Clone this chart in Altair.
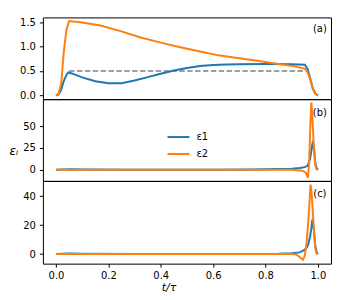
import altair as alt
import pandas as pd

SERIES = ["ε1", "ε2"]
COLORS = ["#1f77b4", "#ff7f0e"]

# ---- panel (a) ----
a_t1 = [0, 0.01, 0.02, 0.03, 0.04, 0.047, 0.06, 0.1, 0.15, 0.2, 0.25, 0.3, 0.35, 0.4, 0.45,
        0.5, 0.55, 0.6, 0.65, 0.7, 0.8, 0.9, 0.95, 0.96, 0.97, 0.98, 0.99, 1.0]
a_v1 = [0, 0.02, 0.12, 0.30, 0.42, 0.47, 0.45, 0.37, 0.29, 0.25, 0.25, 0.305, 0.375, 0.445, 0.51,
        0.56, 0.60, 0.625, 0.635, 0.64, 0.645, 0.64, 0.63, 0.55, 0.36, 0.15, 0.04, 0.0]
a_t2 = [0, 0.01, 0.02, 0.03, 0.04, 0.05, 0.1, 0.17, 0.25, 0.32, 0.4, 0.47, 0.55, 0.62, 0.7,
        0.755, 0.83, 0.906, 0.95, 0.96, 0.97, 0.98, 0.99, 1.0]
a_v2 = [0, 0.04, 0.25, 0.9, 1.35, 1.52, 1.49, 1.43, 1.31, 1.19, 1.08, 0.99, 0.90, 0.82, 0.76,
        0.72, 0.66, 0.60, 0.55, 0.48, 0.34, 0.15, 0.04, 0]
ref_t = [0.05, 0.95]
ref_v = [0.5, 0.5]

# ---- panel (b) ----
b_t1 = [0, 0.05, 0.1, 0.3, 0.6, 0.75, 0.85, 0.9, 0.93, 0.95, 0.96, 0.97, 0.975, 0.981, 0.986,
        0.99, 0.995, 1.0]
b_v1 = [0, 0.5, 0.3, 0, 0, 0.3, 0.8, 1.2, 2.0, 3.0, 4.5, 12, 22, 33, 22, 8, 2, 0]
b_t2 = [0, 0.3, 0.6, 0.9, 0.94, 0.953, 0.962, 0.967, 0.971, 0.975, 0.979, 0.984, 0.99, 0.995, 1.0]
b_v2 = [0, 0, 0, 0, -1, -3, -9, 10, 50, 77, 60, 28, 5, 0.5, 0]

# ---- panel (c) ----
c_t1 = [0, 0.05, 0.1, 0.3, 0.6, 0.85, 0.9, 0.93, 0.945, 0.955, 0.962, 0.97, 0.975, 0.979, 0.985,
        0.99, 0.995, 1.0]
c_v1 = [0, 0.5, 0.3, 0, 0, 0.3, 0.6, 1.2, 2.5, 4, 6, 12, 18, 24, 16, 6, 1.5, 0]
c_t2 = [0, 0.3, 0.6, 0.9, 0.917, 0.93, 0.943, 0.95, 0.957, 0.963, 0.968, 0.972, 0.976, 0.981,
        0.986, 0.99, 0.995, 1.0]
c_v2 = [0, 0, 0, 0, -0.3, -2, -4, -1, 8, 22, 36, 48, 42, 28, 13, 4, 0.5, 0]

# panel tags
tag_text = ["(a)", "(b)", "(c)"]
tag_t = [1.0075, 1.0075, 1.0075]
tag_v = [1.354, 64.4, 41.2]

y_domains = [[-0.076, 1.596], [-12.75, 80.75], [-6.6, 50.6]]
y_ticks = [[0, 0.5, 1.0, 1.5], [0, 25, 50], [0, 20, 40]]
y_formats = [".1f", "d", "d"]
x_ticks = [0, 0.2, 0.4, 0.6, 0.8, 1.0]
x_domain = [-0.05, 1.05]


def frame(t1, v1, t2, v2):
    return pd.concat([
        pd.DataFrame({"t": t1, "v": v1, "s": SERIES[0]}),
        pd.DataFrame({"t": t2, "v": v2, "s": SERIES[1]}),
    ], ignore_index=True)


data = [frame(a_t1, a_v1, a_t2, a_v2), frame(b_t1, b_v1, b_t2, b_v2), frame(c_t1, c_v1, c_t2, c_v2)]
heights = [82, 82, 83]

panels = []
for i in range(3):
    xs = alt.Scale(domain=x_domain, nice=False, zero=False)
    ys = alt.Scale(domain=y_domains[i], nice=False, zero=False)
    if i == 2:
        xaxis = alt.Axis(values=x_ticks, format=".1f", title="t/τ", titleFontStyle="italic",
                         titleFontWeight="normal", titleFontSize=11, titleFont="DejaVu Sans",
                         titleColor="black", titleX=126, titleY=26.5, titleAlign="center",
                         titleBaseline="alphabetic", labelPadding=3)
    else:
        xaxis = None
    if i == 1:
        yaxis = alt.Axis(values=y_ticks[i], format=y_formats[i], title="εᵢ", titleAngle=0,
                         titleX=-34, titleY=52, titleAlign="left", titleBaseline="middle",
                         titleFontStyle="italic", titleFontWeight="normal", titleFontSize=12,
                         titleFont="DejaVu Sans", titleColor="black")
        legend = alt.Legend(title=None, orient="none", legendX=124, legendY=26,
                            symbolType="stroke", symbolSize=484, symbolStrokeWidth=2,
                            labelFont="DejaVu Sans", labelFontSize=10, labelColor="black",
                            labelOffset=6, rowPadding=-5)
    else:
        yaxis = alt.Axis(values=y_ticks[i], format=y_formats[i], title=None)
        legend = None

    X = alt.X("t:Q", scale=xs, axis=xaxis)
    Y = alt.Y("v:Q", scale=ys, axis=yaxis)
    lines = alt.Chart(data[i]).mark_line(strokeWidth=2).encode(
        x=X, y=Y,
        color=alt.Color("s:N", scale=alt.Scale(domain=SERIES, range=COLORS), legend=legend),
    )
    tag = alt.Chart(pd.DataFrame({"t": [tag_t[i]], "v": [tag_v[i]], "txt": [tag_text[i]]})).mark_text(
        font="DejaVu Sans", fontSize=10, color="black", align="center", baseline="middle"
    ).encode(x=X, y=Y, text="txt:N")
    layers = []
    if i == 0:
        ref = alt.Chart(pd.DataFrame({"t": ref_t, "v": ref_v})).mark_line(
            color="#808080", strokeWidth=1.5, strokeDash=[5.5, 2.4]
        ).encode(x=X, y=Y)
        layers.append(ref)
    layers += [lines, tag]
    panels.append(alt.layer(*layers).properties(width=289, height=heights[i]))

chart = alt.vconcat(*panels, spacing=0, bounds="flush").resolve_scale(color="independent").properties(
    padding={"left": 0, "top": 8, "right": 0, "bottom": 0}
).configure_view(
    stroke="black", strokeWidth=1
).configure_axis(
    labelFont="DejaVu Sans", labelFontSize=10, labelColor="black", tickColor="black",
    tickSize=3.5, tickWidth=1, labelPadding=4, domain=False, grid=False
)

chart.save("out.html", embed_options={"renderer": "svg", "actions": False})
